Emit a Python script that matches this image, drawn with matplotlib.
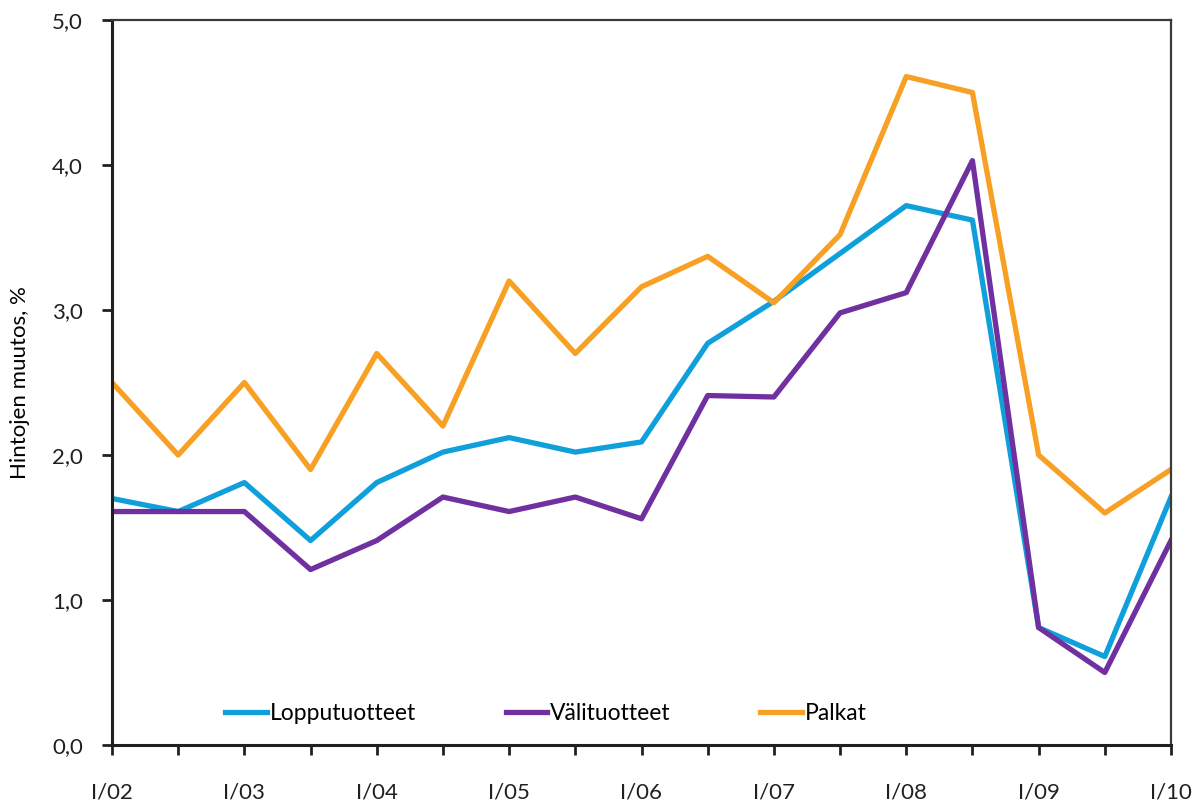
import matplotlib.pyplot as plt
import numpy as np

plt.rcParams['font.family'] = ['Lato', 'DejaVu Sans']

# Data (half-year points, I and III quarters)
periods = ["I/02", "III/02", "I/03", "III/03", "I/04", "III/04", "I/05", "III/05",
           "I/06", "III/06", "I/07", "III/07", "I/08", "III/08", "I/09", "III/09", "I/10"]
lopputuotteet = [1.70, 1.61, 1.81, 1.41, 1.81, 2.02, 2.12, 2.02, 2.09,
                 2.77, 3.06, 3.39, 3.72, 3.62, 0.81, 0.61, 1.71]
valituotteet = [1.61, 1.61, 1.61, 1.21, 1.41, 1.71, 1.61, 1.71, 1.56,
                2.41, 2.40, 2.98, 3.12, 4.03, 0.81, 0.50, 1.41]
palkat = [2.50, 2.00, 2.50, 1.90, 2.70, 2.20, 3.20, 2.70, 3.16,
          3.37, 3.05, 3.52, 4.61, 4.50, 2.00, 1.60, 1.90]
yticks = [0, 1, 2, 3, 4, 5]

x = np.arange(len(periods))

fig = plt.figure(figsize=(11.92, 8.05), dpi=100)
ax = fig.add_axes([112 / 1192, 60 / 805, 1059 / 1192, 725 / 805])

ax.plot(x, lopputuotteet, color='#0FA0DC', lw=3.8, label='Lopputuotteet')
ax.plot(x, valituotteet, color='#7030A0', lw=3.8, label='Välituotteet')
ax.plot(x, palkat, color='#F7A024', lw=3.8, label='Palkat')

ax.set_xlim(0, len(periods) - 1)
ax.set_ylim(0, 5)
ax.set_xticks(x)
ax.set_xticklabels([p if p.startswith("I/") else "" for p in periods], fontsize=16)
ax.set_yticks(yticks)
ax.set_yticklabels([f"{v:.1f}".replace('.', ',') for v in yticks], fontsize=16)
ax.tick_params(axis='x', direction='out', length=7, width=2, pad=20, colors='#231F20')
ax.tick_params(axis='y', direction='out', length=7, width=2, pad=14, colors='#231F20')

for side in ['left', 'bottom']:
    ax.spines[side].set_linewidth(2.2)
    ax.spines[side].set_color('#231F20')
for side in ['top', 'right']:
    ax.spines[side].set_linewidth(1.6)
    ax.spines[side].set_color('#3a3a3a')

ax.set_ylabel("Hintojen muutos, %", fontsize=16, labelpad=16)

ax.legend(loc='center', bbox_to_anchor=(0.41, 0.044), ncol=3, frameon=False,
          fontsize=16.5, handlelength=1.8, handletextpad=0.15, columnspacing=3.9)

fig.savefig('out.png', dpi=100)
